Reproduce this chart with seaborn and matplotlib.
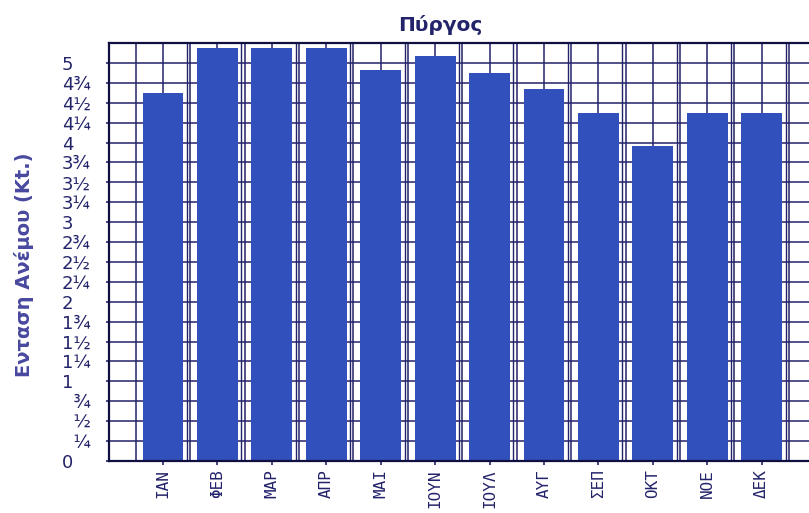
import numpy as np
import pandas as pd
import matplotlib
matplotlib.use("Agg")
import matplotlib.pyplot as plt
import seaborn as sns

months = ["ΙΑΝ", "ΦΕΒ", "ΜΑΡ", "ΑΠΡ", "ΜΑΙ", "ΙΟΥΝ", "ΙΟΥΛ", "ΑΥΓ", "ΣΕΠ", "ΟΚΤ", "ΝΟΕ", "ΔΕΚ"]
wind_kt = [4.62, 5.19, 5.19, 5.19, 4.91, 5.09, 4.87, 4.67, 4.37, 3.95, 4.37, 4.37]

ytick_vals = np.arange(0, 5.01, 0.25)
frac = {0.0: "", 0.25: "¼", 0.5: "½", 0.75: "¾"}
ytick_labels = []
for v in ytick_vals:
    whole, part = int(v), v - int(v)
    if part == 0:
        ytick_labels.append(str(whole))
    elif whole == 0:
        ytick_labels.append("\u2007" + frac[part])
    else:
        ytick_labels.append(f"{whole}{frac[part]}")

df = pd.DataFrame({"month": months, "wind": wind_kt})

sns.set_theme(style="white")
plt.rcParams["font.family"] = ["DejaVu Sans"]

navy = "#23236a"
bar_blue = "#3150bb"

fig = plt.figure(figsize=(8.09, 5.13), dpi=100)
ax = fig.add_axes([0.1342, 0.1014, 0.8658, 0.8148])

# grid: every quarter knot, every half category (plus the doubled line near bar gaps)
for v in np.arange(0, 5.26, 0.25):
    ax.axhline(v, color=navy, lw=1.1, zorder=0)
for k in np.arange(-0.5, 12.0, 0.5):
    ax.axvline(k, color=navy, lw=1.1, zorder=0)
for k in range(len(months)):
    ax.axvline(k + 0.44, color=navy, lw=1.0, zorder=0)

sns.barplot(data=df, x="month", y="wind", color=bar_blue, saturation=1,
            width=0.75, linewidth=0, ax=ax, zorder=2)

ax.set_xlim(-1, 11.87)
ax.set_ylim(0, 5.25)

ax.set_yticks(ytick_vals)
ax.set_yticklabels(ytick_labels)
ax.tick_params(axis="y", left=True, length=2.5, width=1.2, color=navy,
               pad=31, labelsize=13, labelcolor=navy)
for t in ax.get_yticklabels():
    t.set_horizontalalignment("left")

ax.tick_params(axis="x", bottom=True, length=3, width=1.2, color=navy,
               pad=3, labelsize=11.5, labelcolor=navy, rotation=90)
for t in ax.get_xticklabels():
    t.set_fontfamily("DejaVu Sans Mono")

ax.set_xlabel("")
ax.set_ylabel("Ενταση Ανέμου (Kt.)", fontsize=14, fontweight="bold", color="#4848a0")
ax.yaxis.set_label_coords(-0.106, 0.469)

for side in ["left", "bottom", "top"]:
    ax.spines[side].set_color("#101040")
    ax.spines[side].set_linewidth(1.6)
ax.spines["right"].set_visible(False)

fig.text(0.544, 0.951, "Πύργος", ha="center", va="center", fontsize=14.5,
         fontweight="bold", color=navy)

fig.savefig("out.png", dpi=100, facecolor="white")
